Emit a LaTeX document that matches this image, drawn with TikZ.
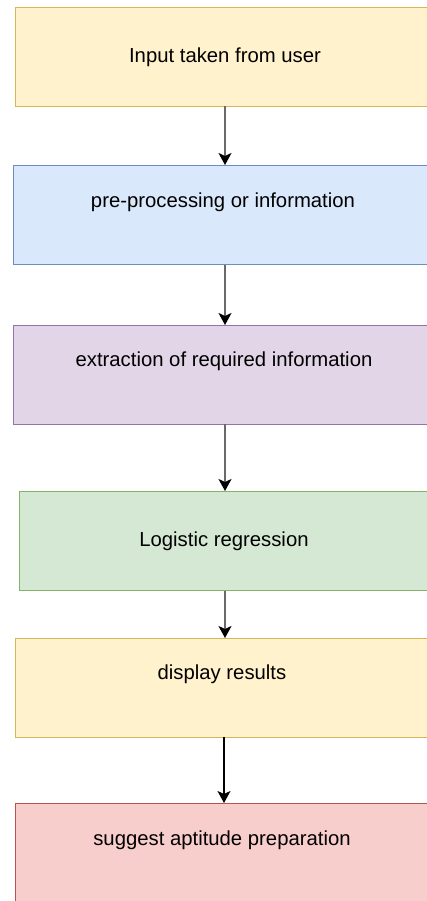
\documentclass[tikz,border=0pt]{standalone}
\usepackage{fontspec}
\setmainfont{Liberation Sans}
\usetikzlibrary{arrows.meta}
\definecolor{yfill}{HTML}{FFF2CC}\definecolor{ydraw}{HTML}{D6B656}
\definecolor{bfill}{HTML}{DAE8FC}\definecolor{bdraw}{HTML}{6C8EBF}
\definecolor{pfill}{HTML}{E1D5E7}\definecolor{pdraw}{HTML}{9673A6}
\definecolor{gfill}{HTML}{D5E8D4}\definecolor{gdraw}{HTML}{82B366}
\definecolor{rfill}{HTML}{F8CECC}\definecolor{rdraw}{HTML}{B85450}
\definecolor{linegray}{HTML}{6A6A6A}
\begin{document}
\begin{tikzpicture}[x=1pt,y=-1pt,
  boxstyle/.style={draw, line width=1pt, rectangle, minimum width=420pt, minimum height=99pt, inner sep=0pt, anchor=north west},
  lbl/.style={font=\fontsize{20.3}{22}\selectfont, inner sep=0pt, text=black},
  conn/.style={line width=1.8pt, -{Stealth[length=12pt,width=13pt,inset=3pt,color=black]}}]
\useasboundingbox (0,0) rectangle (427,901);
\clip (0,0) rectangle (427,901);
\node[boxstyle, fill=yfill, draw=ydraw] (b1) at (15,7) {};
\node[boxstyle, fill=bfill, draw=bdraw] (b2) at (13,165) {};
\node[boxstyle, fill=pfill, draw=pdraw] (b3) at (13,325) {};
\node[boxstyle, fill=gfill, draw=gdraw] (b4) at (19,491) {};
\node[boxstyle, fill=yfill, draw=ydraw] (b5) at (15,638) {};
\node[boxstyle, fill=rfill, draw=rdraw, minimum height=110pt] (b6) at (15,803) {};
\node[lbl] (t1) at (225,57) {Input taken from user};
\node[lbl] (t2) at (223,202) {pre-processing or information};
\node[lbl] (t3) at (224,361) {extraction of required information};
\node[lbl] (t4) at (224,541) {Logistic regression};
\node[lbl] (t5) at (222,674) {display results};
\node[lbl] (t6) at (222,840) {suggest aptitude preparation};
\coordinate (a1) at (225,106); \coordinate (e1) at (225,165);
\coordinate (a2) at (225,265); \coordinate (e2) at (225,325);
\coordinate (a3) at (225,424); \coordinate (e3) at (225,491);
\coordinate (a4) at (225,591); \coordinate (e4) at (225,638);
\coordinate (a5) at (224,737); \coordinate (e5) at (224,803);
\draw[conn, draw=linegray] (a1) -- (e1);
\draw[conn, draw=linegray] (a2) -- (e2);
\draw[conn, draw=linegray] (a3) -- (e3);
\draw[conn, draw=linegray] (a4) -- (e4);
\draw[conn, draw=black, line width=1.4pt] (a5) -- (e5);
\end{tikzpicture}
\end{document}
